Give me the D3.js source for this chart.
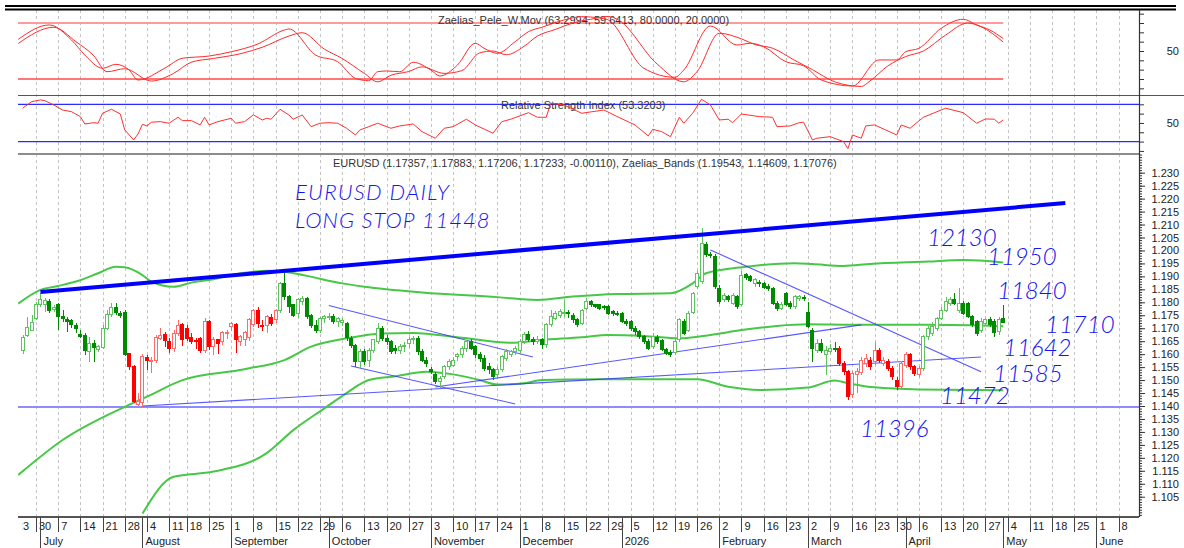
<!DOCTYPE html>
<html>
<head>
<meta charset="utf-8">
<title>EURUSD daily</title>
<script src="https://cdn.jsdelivr.net/npm/d3@7/dist/d3.min.js"></script>
<style>
body { margin: 0; background: #fff; }
svg { display: block; font-family: "Liberation Sans", Arial, sans-serif; }
.hand { font-family: Lato, "Liberation Sans", Arial, sans-serif; font-style: italic; font-weight: 300; fill: #1414f0; }
</style>
</head>
<body>
<svg id="chart" width="1184" height="548"></svg>
<script>
// ---- calendar ----
var axisFrom = '2025-06-23';
var axisTo = '2026-06-19';
var firstBar = '2025-06-25';
var missingDays = ['2025-08-15'];

// ---- daily candles, one entry per trading day from firstBar ----
var opens = [
	1.1613,1.1671,1.1693,
	1.1738,1.1791,1.1790,1.1802,1.1773, 1.1790,1.1745,1.1735,1.1728,1.1709, 1.1677,1.1671,1.1610,1.1640,1.1619,
	1.1627,1.1700,1.1754,1.1780,1.1755, 1.1760,1.1601,1.1552,1.1407,1.1413, 1.1588,1.1572,1.1577,1.1661,1.1674,
	1.1650,1.1622,1.1680,1.1713, 1.1700,1.1665,1.1652,1.1661,1.1616, 1.1725,1.1629,1.1655,1.1648,1.1683,
	1.1706,1.1715,1.1648,1.1655,1.1665, 1.1715,1.1770,1.1712,1.1712,1.1742, 1.1732,1.1770,1.1873,1.1822,1.1790,
	1.1758,1.1802,1.1815,1.1750,1.1712, 1.1690,1.1738,1.1742,1.1745,1.1725, 1.1722,1.1719,1.1661,1.1635,1.1571,
	1.1610,1.1577,1.1616,1.1648,1.1700, 1.1661,1.1648,1.1623,1.1616,1.1629, 1.1642,1.1658,1.1661,1.1610,1.1577,
	1.1539,1.1520,1.1494,1.1513,1.1552, 1.1558,1.1590,1.1597,1.1623,1.1648, 1.1629,1.1597,1.1584,1.1552,1.1539,
	1.1520,1.1539,1.1584,1.1597,1.1610, 1.1616,1.1648,1.1674,1.1655,1.1650, 1.1655,1.1636,1.1713,1.1738,1.1751,
	1.1758,1.1762,1.1748,1.1732,1.1719, 1.1777,1.1803,1.1790,1.1790,1.1783, 1.1783,1.1764,1.1758,1.1758,1.1725,
	1.1725,1.1700,1.1687,1.1668,1.1650, 1.1628,1.1665,1.1652,1.1619,1.1605, 1.1605,1.1655,1.1725,1.1690,1.1761,
	1.1860,1.1880,1.2024,1.1985,1.1976, 1.1854,1.1809,1.1822,1.1796,1.1822, 1.1790,1.1907,1.1899,1.1874,1.1875,
	1.1873,1.1860,1.1854,1.1796,1.1777, 1.1835,1.1796,1.1783,1.1815,1.1818, 1.1761,1.1693,1.1616,1.1642,1.1600,
	1.1612,1.1620,1.1622,1.1565,1.1532, 1.1445,1.1520,1.1530,1.1565,1.1577, 1.1571,1.1616,1.1565,1.1571,1.1545,
	1.1500,1.1475,1.1558,1.1597,1.1552, 1.1520,1.1545,1.1668,1.1680,1.1700, 1.1738,1.1770,1.1796,1.1809,1.1770,
	1.1796,1.1796,1.1745,1.1725,1.1693, 1.1719,1.1732,1.1725,1.1687,1.17357
];
var highs = [
	1.1674,1.1745,1.1751,
	1.1803,1.1837,1.1815,1.1812,1.1790, 1.1796,1.1770,1.1745,1.1734,1.1722, 1.1693,1.1680,1.1668,1.1655,1.1635,
	1.1713,1.1770,1.1796,1.1796,1.1766, 1.1770,1.1603,1.1558,1.1450,1.1600, 1.1597,1.1589,1.1674,1.1700,1.1685,
	1.1664,1.1695,1.1730,1.1720, 1.1712,1.1680,1.1662,1.1668,1.1740, 1.1730,1.1665,1.1660,1.1690,1.1695,
	1.1725,1.1720,1.1675,1.1690,1.1740, 1.1775,1.1780,1.1730,1.1750,1.1755, 1.1775,1.1878,1.1912,1.1830,1.1795,
	1.1815,1.1825,1.1820,1.1755,1.1730, 1.1745,1.1750,1.1760,1.1755,1.1745, 1.1740,1.1725,1.1670,1.1640,1.1620,
	1.1620,1.1625,1.1660,1.1720,1.1710, 1.1675,1.1655,1.1635,1.1640,1.1645, 1.1665,1.1670,1.1670,1.1620,1.1590,
	1.1550,1.1530,1.1515,1.1560,1.1580, 1.1590,1.1605,1.1630,1.1655,1.1660, 1.1635,1.1610,1.1595,1.1565,1.1545,
	1.1550,1.1595,1.1620,1.1615,1.1630, 1.1660,1.1687,1.1690,1.1668,1.1670, 1.1662,1.1720,1.1770,1.1765,1.1775,
	1.1810,1.1770,1.1760,1.1740,1.1775, 1.1816,1.1810,1.1795,1.1795,1.1790, 1.1790,1.1772,1.1765,1.1762,1.1735,
	1.1730,1.1710,1.1695,1.1675,1.1660, 1.1680,1.1675,1.1660,1.1625,1.1615, 1.1660,1.1740,1.1735,1.1765,1.1840,
	1.1920,1.2085,1.2034,1.1995,1.1985, 1.1865,1.1835,1.1830,1.1835,1.1830, 1.1920,1.1915,1.1905,1.1895,1.1885,
	1.1880,1.1870,1.1860,1.1805,1.1800, 1.1840,1.1805,1.1830,1.1830,1.1830, 1.1800,1.1700,1.1660,1.1660,1.1630,
	1.1640,1.1648,1.1630,1.1575,1.1540, 1.1535,1.1545,1.1590,1.1600,1.1590, 1.1648,1.1625,1.1590,1.1580,1.1555,
	1.1510,1.1575,1.1610,1.1605,1.1560, 1.1555,1.1675,1.1710,1.1725,1.1745, 1.1780,1.1822,1.1820,1.1835,1.1854,
	1.1805,1.1800,1.1752,1.1732,1.1740, 1.1740,1.1745,1.1735,1.1745,1.17883
];
var lows = [
	1.1601,1.1668,1.1689,
	1.1732,1.1783,1.1764,1.1760,1.1764, 1.1693,1.1725,1.1687,1.1700,1.1680, 1.1661,1.1597,1.1571,1.1571,1.1610,
	1.1620,1.1693,1.1745,1.1751,1.1740, 1.1591,1.1539,1.1410,1.1400,1.1396, 1.1539,1.1528,1.1566,1.1655,1.1627,
	1.1604,1.1610,1.1670,1.1632, 1.1650,1.1640,1.1620,1.1605,1.1606, 1.1615,1.1595,1.1600,1.1635,1.1660,
	1.1690,1.1605,1.1630,1.1630,1.1650, 1.1705,1.1700,1.1690,1.1680,1.1710, 1.1720,1.1760,1.1810,1.1760,1.1745,
	1.1740,1.1790,1.1735,1.1700,1.1680, 1.1680,1.1720,1.1730,1.1715,1.1705, 1.1710,1.1650,1.1625,1.1552,1.1545,
	1.1560,1.1550,1.1605,1.1640,1.1650, 1.1635,1.1600,1.1600,1.1600,1.1610, 1.1625,1.1640,1.1595,1.1570,1.1550,
	1.1525,1.1485,1.1470,1.1505,1.1540, 1.1550,1.1575,1.1585,1.1610,1.1615, 1.1585,1.1570,1.1535,1.1525,1.1500,
	1.1510,1.1530,1.1575,1.1590,1.1595, 1.1600,1.1640,1.1645,1.1635,1.1638, 1.1620,1.1625,1.1705,1.1730,1.1740,
	1.1745,1.1740,1.1722,1.1705,1.1712, 1.1770,1.1782,1.1778,1.1770,1.1772, 1.1750,1.1748,1.1748,1.1720,1.1710,
	1.1690,1.1675,1.1660,1.1640,1.1615, 1.1620,1.1640,1.1612,1.1595,1.1590, 1.1598,1.1645,1.1675,1.1685,1.1755,
	1.1850,1.1870,1.1975,1.1970,1.1850, 1.1795,1.1800,1.1800,1.1790,1.1775, 1.1785,1.1885,1.1878,1.1860,1.1860,
	1.1850,1.1845,1.1790,1.1765,1.1770, 1.1785,1.1775,1.1775,1.1805,1.1805, 1.1700,1.1571,1.1605,1.1605,1.1520,
	1.1600,1.1610,1.1555,1.1520,1.1423, 1.1430,1.1450,1.1520,1.1550,1.1540, 1.1560,1.1565,1.1555,1.1535,1.1500,
	1.1462,1.1465,1.1545,1.1540,1.1515, 1.1510,1.1535,1.1655,1.1670,1.1690, 1.1730,1.1762,1.1785,1.1790,1.1760,
	1.1750,1.1738,1.1705,1.1670,1.1680, 1.1710,1.1705,1.1668,1.1675,1.17206
];
var closes = [
	1.1664,1.1704,1.1723,
	1.1790,1.1809,1.1806,1.1768,1.1780, 1.1745,1.1738,1.1726,1.1715,1.1698, 1.1670,1.1613,1.1642,1.1627,1.1629,
	1.1700,1.1754,1.1781,1.1762,1.1750, 1.1597,1.1552,1.1417,1.1418,1.1590, 1.1575,1.1574,1.1664,1.1672,1.1651,
	1.1622,1.1680,1.1709,1.1655, 1.1661,1.1650,1.1648,1.1616,1.1725, 1.1629,1.1655,1.1642,1.1683,1.1685,
	1.1719,1.1655,1.1667,1.1683,1.1735, 1.1767,1.1719,1.1706,1.1745,1.1719, 1.1768,1.1873,1.1822,1.1783,1.1751,
	1.1809,1.1815,1.1745,1.1712,1.1690, 1.1738,1.1745,1.1745,1.1725,1.1738, 1.1728,1.1663,1.1635,1.1571,1.1610,
	1.1571,1.1616,1.1655,1.1700,1.1661, 1.1648,1.1610,1.1616,1.1629,1.1635, 1.1655,1.1661,1.1610,1.1577,1.1565,
	1.1532,1.1494,1.1507,1.1552,1.1571, 1.1577,1.1597,1.1623,1.1648,1.1623, 1.1597,1.1584,1.1545,1.1539,1.1513,
	1.1539,1.1590,1.1610,1.1610,1.1620, 1.1648,1.1674,1.1655,1.1650,1.1655, 1.1636,1.1713,1.1745,1.1758,1.1764,
	1.1762,1.1755,1.1732,1.1713,1.1770, 1.1803,1.1790,1.1783,1.1777,1.1780, 1.1758,1.1757,1.1756,1.1725,1.1719,
	1.1700,1.1687,1.1670,1.1650,1.1622, 1.1668,1.1650,1.1619,1.1603,1.1600, 1.1650,1.1732,1.1680,1.1758,1.1835,
	1.1912,1.2028,1.1985,1.1980,1.1860, 1.1805,1.1826,1.1809,1.1828,1.1783, 1.1905,1.1894,1.1886,1.1887,1.1871,
	1.1856,1.1854,1.1796,1.1777,1.1790, 1.1790,1.1783,1.1822,1.1822,1.1814, 1.1706,1.1623,1.1642,1.1616,1.1616,
	1.1620,1.1618,1.1565,1.1532,1.1436, 1.1525,1.1535,1.1577,1.1585,1.1552, 1.1616,1.1577,1.1577,1.1545,1.1513,
	1.1475,1.1565,1.1597,1.1552,1.1526, 1.1545,1.1668,1.1700,1.1706,1.1738, 1.1770,1.1803,1.1809,1.1796,1.1796,
	1.1758,1.1745,1.1713,1.1680,1.1725, 1.1732,1.1713,1.1683,1.1735,1.17233
];
// bar ranges (inclusive) that the chart paints red
var redBars = [[24, 57], [184, 202]];

// ---- Zaelias bands, [bar, price] ----
var upperBand = [[-1,1.1795],[4,1.1848],[8,1.1863],[12,1.1880],[17,1.1912],[21,1.1937],[23,1.1935],[27,1.1905],[29,1.1880],[34,1.1860],
	[38,1.1876],[43,1.1889],[48,1.1908],[52,1.1918],[55,1.1922],[59,1.1918],[64,1.1902],[72,1.1873],[77,1.1860],[90,1.1838],
	[107,1.1820],[116,1.1809],[124,1.1822],[134,1.1832],[146,1.1835],[151,1.1873],[154,1.1912],[163,1.1937],[174,1.1951],[178,1.1948],
	[185,1.1940],[191,1.1948],[204,1.1957],[212,1.1963],[221,1.1954]];
var middleBand = [[-1,1.1134],[9,1.1269],[23,1.1397],[28,1.1436],[36,1.1500],[50,1.1542],[59,1.1577],[65,1.1629],[73,1.1661],[81,1.1680],
	[88,1.1682],[99,1.1663],[110,1.1644],[117,1.1655],[126,1.1665],[132,1.1674],[140,1.1670],[148,1.1661],[155,1.1674],[162,1.1693],
	[170,1.1709],[177,1.1715],[187,1.1713],[204,1.1713],[221,1.1708]];
var lowerBand = [[27,1.0985],[34,1.1127],[43,1.1147],[55,1.1218],[61,1.1307],[68,1.1391],[73,1.1450],[78,1.1500],[84,1.1515],[91,1.1532],
	[97,1.1522],[103,1.1500],[107,1.1483],[113,1.1488],[117,1.1500],[130,1.1503],[152,1.1503],[159,1.1474],[166,1.1462],[177,1.1471],
	[183,1.1498],[186,1.1488],[192,1.1472],[202,1.1464],[221,1.1461]];

// ---- Zaelias_Pele_W.Mov, [bar, value] ----
var peleFast = [[-1,62.5],[6,77.9],[11,61.8],[14,45.7],[18,31.5],[21,35.7],[24,29.6],[26,18.9],[32,31.5],[36,42.2],[42,44.6],[47,49.2],
	[53,57.5],[59,72.5],[60,73.6],[66,45.7],[71,38.5],[75,20.7],[78,18.2],[80,27.8],[82,28.6],[85,27.8],[88,37.9],[92,29.6],[94,23.2],
	[98,35],[102,58.3],[104,52.9],[107,47.5],[111,60],[114,70.7],[117,75.4],[122,83.2],[126,86.8],[130,85.4],[132,83.2],[140,31.5],
	[147,21.8],[149,29.6],[155,76.8],[161,56.4],[164,58.3],[167,54.6],[172,38.5],[176,34.2],[180,18.9],[187,12.5],[193,40.4],[197,40.4],
	[199,49.2],[202,52.9],[207,74.3],[212,84],[215,77.9],[218,72.5],[221,63.3]];
var peleSlow = [[-1,58.1],[7,75.4],[12,60],[16,45],[19,27.8],[23,31],[29,17.8],[34,26],[38,38],[43,42],[49,47],[54,54],[60,66],[63,69.6],
	[68,52],[72,42],[77,26],[80,17],[83,24],[87,28],[90,33],[95,26],[99,29],[103,48],[106,50],[109,46],[113,55],[116,66],[120,73],
	[124,80],[128,84],[132,87],[134,84],[143,36],[149,17],[152,28],[157,69],[162,63],[165,57],[169,53],[174,40],[178,30],[183,17],
	[189,12],[191,18],[195,34],[199,44],[203,50],[208,67],[213,80],[216,76],[221,59.6]];
var peleLevels = [80, 20];

// ---- RSI, [bar, value] ----
var rsi = [[0,65.8],[2,72.8],[4,74.7],[5,73.9],[7,69.3],[9,63.9],[11,62.1],[13,56.8],[14,48.9],[16,50.3],[17,49.7],[18,60.4],[20,64.7],
	[22,59.6],[23,42.5],[25,31.8],[26,38.2],[27,48.6],[28,46.8],[29,50.8],[31,51.4],[33,49.7],[35,56.1],[36,52.5],[38,52.5],[40,47.9],
	[41,56.1],[42,47.9],[44,51.4],[47,55],[48,49.7],[50,51.4],[52,58.6],[54,53.2],[55,55],[56,54],[58,64.7],[60,58.6],[61,54],[63,58.6],
	[65,46],[67,49.7],[69,50.3],[71,49.7],[73,44.3],[75,37.1],[76,42.5],[78,46],[80,49.7],[83,44.3],[85,46.8],[88,48.9],[90,40.7],
	[93,33.6],[95,44.3],[97,46],[100,54],[102,47.9],[106,39],[108,51.4],[110,54],[114,61],[116,56.1],[118,56.1],[119,71.1],[122,69.3],
	[126,60.4],[131,63.9],[134,56.8],[138,47.9],[141,36.1],[142,43.2],[144,40.7],[146,35.3],[148,56.1],[149,49.7],[151,60.4],[153,75.4],
	[155,69.3],[157,53.2],[159,54],[160,50.3],[162,59.6],[166,56.8],[169,56.1],[170,46],[173,46.8],[175,50.3],[176,50.8],[178,31.8],
	[179,33.6],[182,35.3],[185,30],[186,22.5],[187,37.1],[189,33.6],[190,46.8],[192,47.9],[197,37.1],[198,47.9],[200,44.3],[203,56.1],
	[208,65.8],[212,61],[215,49.7],[217,54.3],[219,54],[220,49.7],[221,53.3]];
var rsiLevels = [70, 30];

// ---- drawn levels and trend lines, [bar, price] ----
var supportLevel = 1.1396;
var channelTop = [[4, 1.1840], [235, 1.2183]];
var thinLines = [
	[[27, 1.1400], [216, 1.1589]],
	[[93, 1.1473], [189, 1.1713]],
	[[69, 1.1788], [115, 1.1589]],
	[[74, 1.1554], [111, 1.1408]],
	[[155, 1.2002], [216, 1.1532]]
];

// ---- texts ----
var peleTitle = 'Zaelias_Pele_W.Mov (63.2994, 59.6413, 80.0000, 20.0000)';
var rsiTitle = 'Relative Strength Index (53.3203)';
var mainTitle = 'EURUSD (1.17357, 1.17883, 1.17206, 1.17233, -0.00110), Zaelias_Bands (1.19543, 1.14609, 1.17076)';
var notes = [
	{text: 'EURUSD DAILY', x: 295, y: 200, size: 22, spacing: 1.2},
	{text: 'LONG STOP 11448', x: 295, y: 228, size: 22, spacing: 1},
	{text: '12130', x: 927, y: 246, size: 24, spacing: 0},
	{text: '11950', x: 987, y: 265, size: 24, spacing: 0},
	{text: '11840', x: 997, y: 299, size: 24, spacing: 0},
	{text: '11710', x: 1045, y: 333, size: 24, spacing: 0},
	{text: '11642', x: 1003, y: 356, size: 24, spacing: 0},
	{text: '11585', x: 993, y: 382, size: 24, spacing: 0},
	{text: '11472', x: 940, y: 404, size: 24, spacing: 0},
	{text: '11396', x: 860, y: 437, size: 24, spacing: 0}
];

// ================================================================
var parseDay = d3.timeParse('%Y-%m-%d');
var fmtDay = d3.timeFormat('%Y-%m-%d');

function buildDays()
{
	var out = [];
	d3.timeDay.range(parseDay(axisFrom), d3.timeDay.offset(parseDay(axisTo), 1)).forEach(function(d) {
		var wd = d.getDay();
		if (wd != 0 && wd != 6 && missingDays.indexOf(fmtDay(d)) == -1)
		{
			out.push(d);
		}
	});
	return out;
}

var days = buildDays();
var barOffset = days.map(fmtDay).indexOf(firstBar);

var left = 18, right = 1139;
var x = d3.scaleLinear().domain([5, 244]).range([36, 1096.4]);
var yMain = d3.scaleLinear().domain([1.14, 1.23]).range([406, 172.7]);
var yPele = d3.scaleLinear().domain([20, 80]).range([79, 23]);
var yRsi = d3.scaleLinear().domain([30, 70]).range([141.6, 104.3]);

function barX(b) { return x(b + barOffset); }

var svg = d3.select('#chart');
var defs = svg.append('defs');
function clipRect(id, x0, y0, x1, y1)
{
	defs.append('clipPath').attr('id', id).append('rect')
		.attr('x', x0).attr('y', y0).attr('width', x1 - x0).attr('height', y1 - y0);
}
clipRect('clip-pele', left, 10, right, 95);
clipRect('clip-rsi', left, 95, right, 154);
clipRect('clip-main', left, 154, right, 517);
clipRect('clip-axis', 22.5, 517, right, 548);

function isRed(b)
{
	for (var i = 0; i < redBars.length; i++)
	{
		if (b >= redBars[i][0] && b <= redBars[i][1]) return true;
	}
	return false;
}

function weekStarts()
{
	return days.filter(function(d, i) {
		return i == 0 || +d3.timeMonday.floor(d) != +d3.timeMonday.floor(days[i - 1]);
	});
}

function drawGrid()
{
	var g = svg.append('g');
	g.selectAll('line').data(weekStarts()).enter().append('line')
		.filter(function(d) { var p = x(days.indexOf(d)); return p > left && p < right; })
		.attr('x1', d => Math.round(x(days.indexOf(d))) + 0.5)
		.attr('x2', d => Math.round(x(days.indexOf(d))) + 0.5)
		.attr('y1', 10).attr('y2', 517)
		.attr('stroke', '#c4c4c4').attr('stroke-dasharray', '3,3');
}

function drawFrames()
{
	var g = svg.append('g').attr('fill', 'none');
	g.append('line').attr('x1', 5).attr('x2', 1176).attr('y1', 6).attr('y2', 6).attr('stroke', '#000').attr('stroke-width', 2);
	g.append('line').attr('x1', 5).attr('x2', 1176).attr('y1', 9.5).attr('y2', 9.5).attr('stroke', '#000').attr('stroke-width', 2);
	g.append('line').attr('x1', left).attr('x2', 1184).attr('y1', 95.5).attr('y2', 95.5).attr('stroke', '#555').attr('stroke-width', 1.2);
	g.append('line').attr('x1', left).attr('x2', right).attr('y1', 154).attr('y2', 154).attr('stroke', '#8c8c8c').attr('stroke-width', 2);
	g.append('line').attr('x1', left).attr('x2', right).attr('y1', 517).attr('y2', 517).attr('stroke', '#555').attr('stroke-width', 2);
	g.append('line').attr('x1', right + 0.5).attr('x2', right + 0.5).attr('y1', 10).attr('y2', 517).attr('stroke', '#333').attr('stroke-width', 1.2);
}

function drawPele()
{
	var g = svg.append('g').attr('clip-path', 'url(#clip-pele)');
	var lastX = barX(opens.length - 1);
	g.selectAll('line.level').data(peleLevels).enter().append('line')
		.attr('x1', left).attr('x2', lastX)
		.attr('y1', d => yPele(d)).attr('y2', d => yPele(d))
		.attr('stroke', (d, i) => i == 0 ? '#ff9a9a' : '#ff4a4a')
		.attr('stroke-width', (d, i) => i == 0 ? 2 : 1.4);
	g.append('text').attr('x', 438).attr('y', 24).attr('font-size', 11).attr('fill', '#333').text(peleTitle);
	var line = d3.line().x(d => barX(d[0])).y(d => yPele(d[1])).curve(d3.curveMonotoneX);
	[peleFast, peleSlow].forEach(function(series) {
		g.append('path').attr('d', line(series)).attr('fill', 'none').attr('stroke', '#ff2a2a').attr('stroke-width', 1);
	});
}

function drawRsi()
{
	var g = svg.append('g').attr('clip-path', 'url(#clip-rsi)');
	g.selectAll('line.level').data(rsiLevels).enter().append('line')
		.attr('x1', left).attr('x2', right)
		.attr('y1', d => yRsi(d)).attr('y2', d => yRsi(d))
		.attr('stroke', '#2b2bff').attr('stroke-width', 1.3);
	g.append('text').attr('x', 501).attr('y', 109).attr('font-size', 11).attr('fill', '#333').text(rsiTitle);
	var line = d3.line().x(d => barX(d[0])).y(d => yRsi(d[1]));
	g.append('path').attr('d', line(rsi)).attr('fill', 'none').attr('stroke', '#ff3030').attr('stroke-width', 1);
}

function drawMain()
{
	var g = svg.append('g').attr('clip-path', 'url(#clip-main)');
	g.append('text').attr('x', 333).attr('y', 167).attr('font-size', 11).attr('fill', '#333').text(mainTitle);

	g.append('line').attr('x1', left).attr('x2', right)
		.attr('y1', yMain(supportLevel)).attr('y2', yMain(supportLevel))
		.attr('stroke', '#8c8cff').attr('stroke-width', 2);

	var band = d3.line().x(d => barX(d[0])).y(d => yMain(d[1])).curve(d3.curveMonotoneX);
	[upperBand, middleBand, lowerBand].forEach(function(series) {
		g.append('path').attr('d', band(series)).attr('fill', 'none').attr('stroke', '#46c846').attr('stroke-width', 2);
	});

	g.selectAll('line.trend').data(thinLines).enter().append('line')
		.attr('x1', d => barX(d[0][0])).attr('y1', d => yMain(d[0][1]))
		.attr('x2', d => barX(d[1][0])).attr('y2', d => yMain(d[1][1]))
		.attr('stroke', '#3a3aff').attr('stroke-opacity', 0.85).attr('stroke-width', 1.1);

	var n = Math.min(opens.length, highs.length, lows.length, closes.length);
	var candles = g.selectAll('g.candle').data(d3.range(n)).enter().append('g')
		.attr('shape-rendering', 'crispEdges');
	function colour(b)
	{
		var up = closes[b] >= opens[b];
		if (isRed(b)) return up ? '#ff6a6a' : '#ff0000';
		return up ? '#5ec35e' : '#008a00';
	}
	candles.append('line')
		.attr('x1', b => Math.round(barX(b)) + 0.5).attr('x2', b => Math.round(barX(b)) + 0.5)
		.attr('y1', b => yMain(highs[b])).attr('y2', b => yMain(lows[b]))
		.attr('stroke', colour);
	candles.append('rect')
		.attr('x', b => Math.round(barX(b)) - 1.5)
		.attr('width', 3)
		.attr('y', b => yMain(Math.max(opens[b], closes[b])))
		.attr('height', b => Math.max(1, yMain(Math.min(opens[b], closes[b])) - yMain(Math.max(opens[b], closes[b]))))
		.attr('fill', b => closes[b] >= opens[b] ? '#fff' : colour(b))
		.attr('stroke', colour);

	g.append('line')
		.attr('x1', barX(channelTop[0][0])).attr('y1', yMain(channelTop[0][1]))
		.attr('x2', barX(channelTop[1][0])).attr('y2', yMain(channelTop[1][1]))
		.attr('stroke', '#0000ff').attr('stroke-width', 4);
}

function drawRightAxes()
{
	var g = svg.append('g').attr('transform', 'translate(' + right + ',0)');
	var minor = d3.range(1098, 1238).map(v => v / 1000);
	var major = d3.range(221, 247).map(v => v * 0.005);
	g.append('g').call(d3.axisRight(yMain).tickValues(minor).tickSize(3).tickFormat(''));
	g.append('g').call(d3.axisRight(yMain).tickValues(major).tickSize(6).tickFormat(d3.format('.3f')));
	g.append('g').call(d3.axisRight(yPele).tickValues(d3.range(0, 100, 10).filter(v => yPele(v) > 11 && yPele(v) < 94)).tickSize(5)
		.tickFormat(v => v == 50 ? '50' : ''));
	g.append('g').call(d3.axisRight(yRsi).tickValues(d3.range(20, 90, 10).filter(v => yRsi(v) > 97 && yRsi(v) < 153)).tickSize(5)
		.tickFormat(v => v == 50 ? '50' : ''));
	g.selectAll('.domain').remove();
	g.selectAll('.tick line').attr('stroke', '#333');
	g.selectAll('.tick text').attr('text-anchor', 'end').attr('x', 40)
		.attr('font-family', '"Liberation Sans", Arial, sans-serif').attr('font-size', 11).attr('fill', '#222');
}

function drawBottomAxis()
{
	var g = svg.append('g').attr('font-size', 11).attr('fill', '#222');
	var weeks = weekStarts();
	var months = days.filter(function(d, i) {
		return i > 0 && d.getMonth() != days[i - 1].getMonth();
	});
	var clip = g.append('g').attr('clip-path', 'url(#clip-axis)');
	clip.selectAll('line.week').data(weeks).enter().append('line')
		.attr('x1', d => Math.round(x(days.indexOf(d))) + 0.5).attr('x2', d => Math.round(x(days.indexOf(d))) + 0.5)
		.attr('y1', 517).attr('y2', 532).attr('stroke', '#444');
	clip.selectAll('text.week').data(weeks).enter().append('text')
		.attr('x', d => x(days.indexOf(d)) + 3).attr('y', 530)
		.text(d => d.getDate());
	clip.selectAll('line.month').data(months).enter().append('line')
		.attr('x1', d => Math.round(x(days.indexOf(d))) + 0.5).attr('x2', d => Math.round(x(days.indexOf(d))) + 0.5)
		.attr('y1', 517).attr('y2', 548).attr('stroke', '#444');
	clip.selectAll('text.month').data(months).enter().append('text')
		.attr('x', d => x(days.indexOf(d)) + 3).attr('y', 545)
		.text(d => d.getMonth() == 0 ? d.getFullYear() : d3.timeFormat('%B')(d));
}

function drawNotes()
{
	svg.append('g').selectAll('text').data(notes).enter().append('text')
		.attr('class', 'hand')
		.attr('x', d => d.x).attr('y', d => d.y)
		.attr('font-size', d => d.size)
		.attr('letter-spacing', d => d.spacing)
		.text(d => d.text);
}

drawGrid();
drawPele();
drawRsi();
drawMain();
drawFrames();
drawRightAxes();
drawBottomAxis();
drawNotes();
</script>
</body>
</html>
